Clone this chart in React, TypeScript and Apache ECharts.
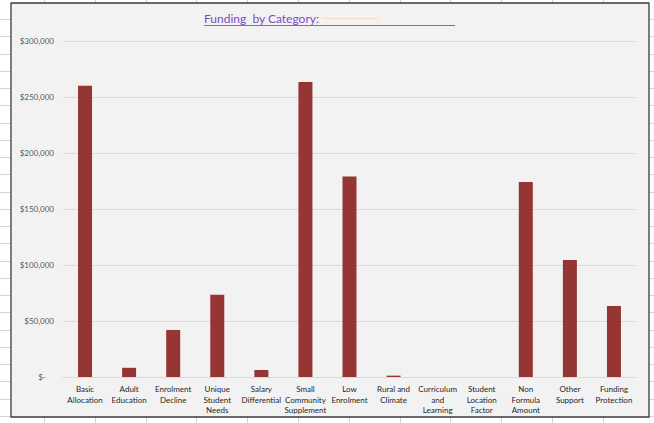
import React, { useEffect, useRef } from "react";
import * as echarts from "echarts";

const categories = [
  "Basic\nAllocation",
  "Adult\nEducation",
  "Enrolment\nDecline",
  "Unique\nStudent\nNeeds",
  "Salary\nDifferential",
  "Small\nCommunity\nSupplement",
  "Low\nEnrolment",
  "Rural and\nClimate",
  "Curriculum\nand\nLearning",
  "Student\nLocation\nFactor",
  "Non\nFormula\nAmount",
  "Other\nSupport",
  "Funding\nProtection",
];

const funding = [
  260000, 8200, 42000, 73500, 6200, 263500, 179000, 1200, 0, 0, 174000, 104500, 63500,
];

const yTicks = { min: 0, max: 300000, interval: 50000 };
const titleText = "Funding  by Category:";

export default function App() {
  const ref = useRef<HTMLDivElement>(null);
  useEffect(() => {
    if (!ref.current) return;
    const chart = echarts.init(ref.current, null, { renderer: "svg" });
    const sheet: any[] = [];
    for (let y = 19; y < 423; y += 17.25) {
      sheet.push({
        type: "line",
        z: -20,
        shape: { x1: 0, y1: Math.round(y) + 0.5, x2: 654, y2: Math.round(y) + 0.5 },
        style: { stroke: "#d4d4d4", lineWidth: 1 },
      });
    }
    for (let x = 44; x < 654; x += 50.8) {
      sheet.push({
        type: "line",
        z: -20,
        shape: { x1: Math.round(x) + 0.5, y1: 0, x2: Math.round(x) + 0.5, y2: 423 },
        style: { stroke: "#d4d4d4", lineWidth: 1 },
      });
    }
    chart.setOption({
      animation: false,
      backgroundColor: "#ffffff",
      textStyle: { fontFamily: "Lato" },
      graphic: [
        ...sheet,
        {
          type: "rect",
          z: -10,
          shape: { x: 11, y: 3, width: 638, height: 414 },
          style: { fill: "#f2f2f2", stroke: "#3a3a3a", lineWidth: 1.3 },
        },
        {
          type: "text",
          z: 10,
          x: 204,
          y: 12.5,
          style: {
            text: titleText,
            fill: "#7a4cc0",
            font: "12px Lato",
          },
        },
        {
          type: "line",
          z: 10,
          shape: { x1: 204, y1: 25.5, x2: 455, y2: 25.5 },
          style: { stroke: "#8c5fcc", lineWidth: 1 },
        },
        {
          type: "line",
          z: 10,
          shape: { x1: 322, y1: 18.5, x2: 378, y2: 18.5 },
          style: { stroke: "#f5dcc0", lineWidth: 1 },
        },
      ],
      grid: { left: 63, right: 18, top: 41, bottom: 46, containLabel: false },
      xAxis: {
        type: "category",
        data: categories,
        axisLine: { lineStyle: { color: "#d9d9d9", width: 1 } },
        axisTick: { show: false },
        axisLabel: {
          interval: 0,
          color: "#1f1f1f",
          fontSize: 8,
          lineHeight: 10.5,
          margin: 7,
          fontFamily: "Lato",
        },
      },
      yAxis: {
        type: "value",
        min: yTicks.min,
        max: yTicks.max,
        interval: yTicks.interval,
        axisLine: { show: false },
        axisTick: { show: false },
        splitLine: { lineStyle: { color: "#d9d9d9", width: 1 } },
        axisLabel: {
          color: "#595959",
          fontSize: 8,
          margin: 9,
          fontFamily: "Lato",
          formatter: (v: number) =>
            v === 0 ? "$-    " : "$" + v.toLocaleString("en-US"),
        },
      },
      series: [
        {
          type: "bar",
          data: funding,
          barWidth: 14,
          itemStyle: { color: "#963634", borderWidth: 0 },
        },
      ],
    });
    return () => chart.dispose();
  }, []);
  return (
    <div
      ref={ref}
      style={{ position: "absolute", left: 0, top: 0, width: 654, height: 423 }}
    />
  );
}
